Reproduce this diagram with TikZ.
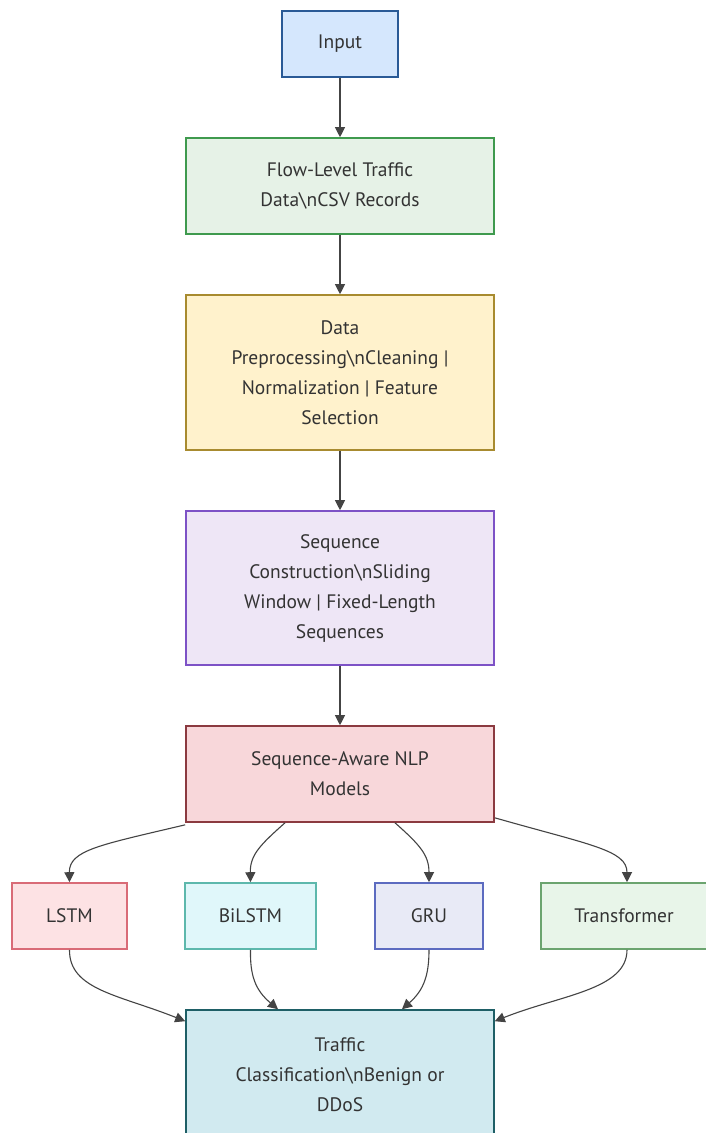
\documentclass[tikz,border=0pt]{standalone}
\usepackage{fontspec}
\setmainfont{PT Sans}
\usetikzlibrary{arrows.meta}
\definecolor{txt}{HTML}{333333}
\definecolor{edge}{HTML}{444444}
\definecolor{inF}{HTML}{D5E7FD}\definecolor{inD}{HTML}{2A5A96}
\definecolor{flF}{HTML}{E6F2E7}\definecolor{flD}{HTML}{3F9A4E}
\definecolor{prF}{HTML}{FFF2CC}\definecolor{prD}{HTML}{A88B2F}
\definecolor{sqF}{HTML}{EEE6F6}\definecolor{sqD}{HTML}{7D52C6}
\definecolor{nlF}{HTML}{F8D7DA}\definecolor{nlD}{HTML}{8B3A40}
\definecolor{lsF}{HTML}{FDE2E4}\definecolor{lsD}{HTML}{D96B77}
\definecolor{biF}{HTML}{E0F7FA}\definecolor{biD}{HTML}{5DB8AC}
\definecolor{grF}{HTML}{E8EAF6}\definecolor{grD}{HTML}{5C6BC0}
\definecolor{trF}{HTML}{E8F5E9}\definecolor{trD}{HTML}{6BA46F}
\definecolor{clF}{HTML}{D1EAF0}\definecolor{clD}{HTML}{1E5F66}
\tikzset{
  box/.style={draw, line width=1.6pt, rectangle, align=center, inner sep=0pt, text=txt,
    font=\fontsize{19.5}{30}\selectfont},
  conn/.style={draw=edge, line width=1.1pt, -{Triangle[length=10pt,width=10pt]}},
}
\begin{document}
\begin{tikzpicture}[x=1pt,y=-1pt]
\useasboundingbox (0,0) rectangle (705,1133);
\fill[white] (0,0) rectangle (705,1133);
\node[box, fill=inF, draw=inD, minimum width=116, minimum height=66] (in) at (340,44) {Input};
\node[box, fill=flF, draw=flD, minimum width=308, minimum height=96] (flow) at (340,186) {Flow-Level Traffic\\Data\textbackslash nCSV Records};
\node[box, fill=prF, draw=prD, minimum width=308, minimum height=155] (pre) at (340,372.5) {Data\\Preprocessing\textbackslash nCleaning |\\Normalization | Feature\\Selection};
\node[box, fill=sqF, draw=sqD, minimum width=308, minimum height=154] (seq) at (340,588) {Sequence\\Construction\textbackslash nSliding\\Window | Fixed-Length\\Sequences};
\node[box, fill=nlF, draw=nlD, minimum width=308, minimum height=96] (nlp) at (340,774) {Sequence-Aware NLP\\Models};
\node[box, fill=lsF, draw=lsD, minimum width=115, minimum height=66] (lstm) at (69.5,916) {LSTM};
\node[box, fill=biF, draw=biD, minimum width=131, minimum height=66] (bilstm) at (250.5,916) {BiLSTM};
\node[box, fill=grF, draw=grD, minimum width=108, minimum height=66] (gru) at (429,916) {GRU};
\node[box, fill=trF, draw=trD, minimum width=166, minimum height=66] (tr) at (624,916) {Transformer};
\node[box, fill=clF, draw=clD, minimum width=308, minimum height=130] (cls) at (340,1075) {Traffic\\Classification\textbackslash nBenign or\\DDoS};
\draw[conn] (in) -- (flow);
\draw[conn] (flow) -- (pre);
\draw[conn] (pre) -- (seq);
\draw[conn] (seq) -- (nlp);
\draw[conn] ([yshift=-2pt]nlp.south west) .. controls (100,845) and (69,850) .. (lstm.north);
\draw[conn] ([xshift=-55pt]nlp.south) .. controls (260,845) and (250,855) .. (bilstm.north);
\draw[conn] ([xshift=55pt]nlp.south) .. controls (420,845) and (429,855) .. (gru.north);
\draw[conn] ([yshift=5pt]nlp.south east) .. controls (590,845) and (627,850) .. ([xshift=3pt]tr.north);
\draw[conn] (lstm.south) .. controls (69,990) and (120,995) .. ([yshift=-12pt]cls.north west);
\draw[conn] (bilstm.south) .. controls (250,975) and (255,990) .. ([xshift=-62pt]cls.north);
\draw[conn] (gru.south) .. controls (429,975) and (424,990) .. ([xshift=62pt]cls.north);
\draw[conn] ([xshift=3pt]tr.south) .. controls (627,990) and (560,995) .. ([yshift=-12pt]cls.north east);
\end{tikzpicture}
\end{document}
